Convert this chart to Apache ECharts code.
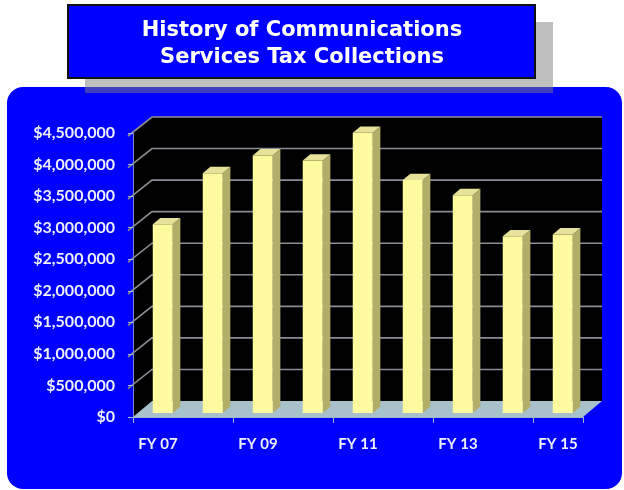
<!DOCTYPE html>
<html>
<head>
<meta charset="utf-8">
<script src="https://cdn.jsdelivr.net/npm/echarts@6/dist/echarts.min.js"></script>
<style>
  html, body { margin: 0; padding: 0; background: #ffffff; }
  #chart { width: 624px; height: 490px; }
</style>
</head>
<body>
<div id="chart"></div>
<script>
// Fiscal years and annual Communications Services Tax collections (dollars)
const categories = ['FY 07', 'FY 08', 'FY 09', 'FY 10', 'FY 11', 'FY 12', 'FY 13', 'FY 14', 'FY 15'];
const collections = [2990000, 3800000, 4080000, 4000000, 4440000, 3690000, 3450000, 2800000, 2830000];
const yMax = 4500000;
const yStep = 500000;

// Pseudo-3D depth of the plot box, in pixels
const DEPTH_X = 19;
const DEPTH_Y = -16;
const BAR_FRONT = 0.25;   // bar front face position within the depth
const BAR_BACK = 0.65;    // bar back face position within the depth

const chart = echarts.init(document.getElementById('chart'), null, { renderer: 'canvas' });

function money(v) {
  return '$' + String(v).replace(/\B(?=(\d{3})+(?!\d))/g, ',');
}

// Back wall, left wall, floor and gridlines
function renderWalls(params, api) {
  const n = categories.length;
  const bw = api.size([1, 0])[0];
  const x0 = api.coord([0, 0])[0] - bw / 2;
  const x1 = api.coord([n - 1, 0])[0] + bw / 2;
  const yb = api.coord([0, 0])[1];
  const yt = api.coord([0, yMax])[1];
  const children = [];
  children.push({
    type: 'polygon',
    shape: { points: [[x0, yt], [x0 + DEPTH_X, yt + DEPTH_Y], [x1 + DEPTH_X, yt + DEPTH_Y], [x1 + DEPTH_X, yb + DEPTH_Y], [x0, yb]] },
    style: { fill: '#000000' }
  });
  for (let v = yStep; v <= yMax; v += yStep) {
    const y = api.coord([0, v])[1];
    children.push({
      type: 'polyline',
      shape: { points: [[x0 - 5, y + 3], [x0 + DEPTH_X, y + DEPTH_Y], [x1 + DEPTH_X, y + DEPTH_Y]] },
      style: { stroke: '#8c8c94', lineWidth: 1.6, fill: null }
    });
  }
  children.push({
    type: 'polygon',
    shape: { points: [[x0, yb], [x1, yb], [x1 + DEPTH_X, yb + DEPTH_Y], [x0 + DEPTH_X, yb + DEPTH_Y]] },
    style: { fill: '#a8c2cc' }
  });
  return { type: 'group', children: children };
}

// Each column as a front face, right side face and top cap
function renderBar(params, api) {
  const i = api.value(0);
  const top = api.coord([i, api.value(1)]);
  const base = api.coord([i, 0]);
  const bw = api.size([1, 0])[0];
  const w = bw * 0.4;
  const xl = top[0] - w / 2 + DEPTH_X * BAR_FRONT;
  const xr = xl + w;
  const yTop = top[1] + DEPTH_Y * BAR_FRONT;
  const yBot = base[1] + DEPTH_Y * BAR_FRONT;
  const dx = DEPTH_X * (BAR_BACK - BAR_FRONT);
  const dy = DEPTH_Y * (BAR_BACK - BAR_FRONT);
  return {
    type: 'group',
    children: [
      {
        type: 'polygon',
        shape: { points: [[xr, yTop], [xr + dx, yTop + dy], [xr + dx, yBot + dy], [xr, yBot]] },
        style: { fill: '#b3ad6a' }
      },
      {
        type: 'polygon',
        shape: { points: [[xl, yTop], [xr, yTop], [xr + dx, yTop + dy], [xl + dx, yTop + dy]] },
        style: { fill: '#e6e29a' }
      },
      {
        type: 'rect',
        shape: { x: xl, y: yTop, width: w, height: yBot - yTop },
        style: { fill: '#fdfb9e' }
      }
    ]
  };
}

const option = {
  backgroundColor: '#ffffff',
  animation: false,
  graphic: [
    { type: 'rect', z: 0, shape: { x: 7, y: 87, width: 615, height: 402, r: 16 }, style: { fill: '#0000ff' } },
    { type: 'rect', z: 10, shape: { x: 85, y: 22, width: 468, height: 71 }, style: { fill: 'rgba(128,128,128,0.5)' } },
    { type: 'rect', z: 11, shape: { x: 68, y: 5, width: 467, height: 73 }, style: { fill: '#0000ff', stroke: '#111111', lineWidth: 2 } },
    {
      type: 'text', z: 12, x: 302, y: 44,
      style: {
        text: 'History of Communications\nServices Tax Collections',
        fill: '#ffffff', font: 'bold 21px "DejaVu Sans", Verdana, sans-serif',
        align: 'center', verticalAlign: 'middle', lineHeight: 27
      }
    }
  ],
  grid: { left: 133, right: 41, top: 133, bottom: 73, containLabel: false },
  xAxis: {
    type: 'category',
    data: categories,
    z: 5,
    axisLine: { show: true, lineStyle: { color: '#9fb4c4', width: 1 } },
    axisTick: { show: true, length: 6, lineStyle: { color: '#9fb4d8' } },
    axisLabel: {
      interval: 1, margin: 20, color: '#eef0ff',
      fontFamily: 'Lato', fontWeight: 'bold', fontSize: 15
    }
  },
  yAxis: {
    type: 'value',
    min: 0, max: yMax, interval: yStep,
    z: 5,
    axisLine: { show: true, lineStyle: { color: '#7f8cc0', width: 1 } },
    axisTick: { show: true, length: 5, lineStyle: { color: '#9fb4d8' } },
    splitLine: { show: false },
    axisLabel: {
      margin: 18, color: '#eef0ff', formatter: money,
      fontFamily: 'Lato', fontWeight: 'bold', fontSize: 16
    }
  },
  series: [
    {
      type: 'custom', z: 1, silent: true,
      renderItem: renderWalls,
      data: [[0, 0]],
      clip: false
    },
    {
      type: 'custom', z: 2,
      renderItem: renderBar,
      data: collections.map((v, i) => [i, v]),
      clip: false
    }
  ]
};

chart.setOption(option);
</script>
</body>
</html>
